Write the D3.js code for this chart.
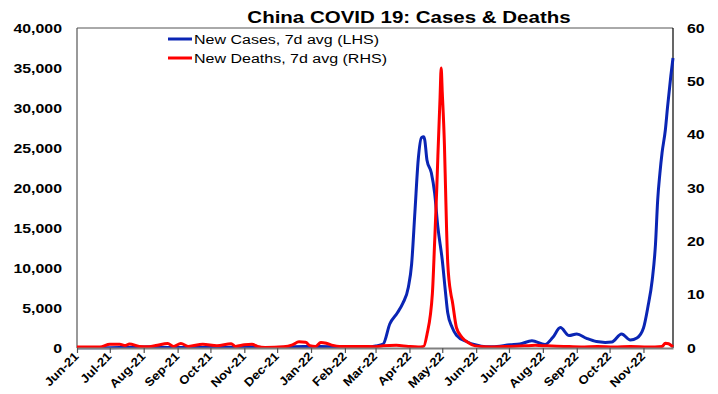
<!DOCTYPE html>
<html>
<head>
<meta charset="utf-8">
<script src="https://cdn.jsdelivr.net/npm/d3@7"></script>
<style>
html,body{margin:0;padding:0;background:#fff;}
svg{display:block;font-family:"Liberation Sans",Arial,sans-serif;}
</style>
</head>
<body>
<svg id="chart" width="718" height="394"></svg>
<script>
// ---- data ----
const caseDates = ["2021-06-01","2021-06-20","2021-07-01","2021-07-15","2021-07-28","2021-08-10","2021-08-25","2021-09-15","2021-10-01","2021-10-20","2021-11-05","2021-11-20","2021-12-10","2021-12-25","2022-01-10","2022-01-25","2022-02-10","2022-02-25","2022-03-01","2022-03-08","2022-03-14","2022-03-21","2022-03-26","2022-03-31","2022-04-03","2022-04-06","2022-04-09","2022-04-12","2022-04-14","2022-04-15","2022-04-17","2022-04-21","2022-04-24","2022-04-27","2022-05-01","2022-05-04","2022-05-06","2022-05-10","2022-05-14","2022-05-24","2022-05-31","2022-06-10","2022-06-16","2022-07-02","2022-07-11","2022-07-22","2022-08-03","2022-08-10","2022-08-17","2022-08-25","2022-09-01","2022-09-10","2022-09-19","2022-09-27","2022-10-03","2022-10-12","2022-10-20","2022-10-26","2022-11-01","2022-11-05","2022-11-09","2022-11-12","2022-11-14","2022-11-16","2022-11-18","2022-11-21","2022-11-23","2022-11-26","2022-11-28"];
const caseValues = [30,30,40,60,100,150,60,80,50,80,150,60,100,200,200,120,100,150,250,500,3000,4400,5600,7600,10500,17000,23500,26300,26400,26000,23500,21900,19400,15100,11000,6900,4400,2600,1600,750,400,150,150,400,500,900,450,1300,2550,1550,1750,1200,800,700,750,1750,1000,1250,2500,5100,8500,13000,18500,21800,24400,27250,30100,34000,36250];

const deathDates = ["2021-06-01","2021-06-22","2021-07-01","2021-07-10","2021-07-15","2021-07-19","2021-07-28","2021-08-06","2021-08-12","2021-08-23","2021-08-28","2021-09-04","2021-09-11","2021-09-24","2021-10-07","2021-10-20","2021-10-24","2021-11-01","2021-11-08","2021-11-13","2021-11-20","2021-12-07","2021-12-15","2021-12-21","2021-12-27","2021-12-31","2022-01-05","2022-01-10","2022-01-15","2022-01-21","2022-01-27","2022-02-15","2022-03-01","2022-03-08","2022-03-20","2022-03-31","2022-04-09","2022-04-14","2022-04-17","2022-04-22","2022-04-24","2022-04-26","2022-04-27","2022-04-29","2022-04-30","2022-05-01","2022-05-03","2022-05-04","2022-05-05","2022-05-06","2022-05-09","2022-05-10","2022-05-14","2022-05-19","2022-05-25","2022-05-31","2022-06-15","2022-07-01","2022-07-15","2022-07-25","2022-08-05","2022-08-20","2022-09-05","2022-09-20","2022-10-05","2022-10-20","2022-11-05","2022-11-18","2022-11-21","2022-11-24","2022-11-28"];
const deathValues = [0.2,0.2,0.7,0.7,0.45,0.75,0.3,0.25,0.45,0.85,0.3,0.85,0.3,0.7,0.4,0.8,0.3,0.6,0.7,0.3,0.1,0.25,0.6,1.15,1.1,0.45,0.3,1.05,0.9,0.5,0.3,0.3,0.25,0.4,0.5,0.3,0.2,0.3,2.5,10.3,19.7,30,36,47,52.5,48,38,30,22,16,10,9,3.8,2.0,1.0,0.4,0.2,0.3,0.4,0.5,0.4,0.3,0.2,0.3,0.2,0.3,0.2,0.3,0.9,0.8,0.2];

const monthTicks = ["2021-06-01","2021-07-01","2021-08-01","2021-09-01","2021-10-01","2021-11-01","2021-12-01","2022-01-01","2022-02-01","2022-03-01","2022-04-01","2022-05-01","2022-06-01","2022-07-01","2022-08-01","2022-09-01","2022-10-01","2022-11-01"];
const monthLabels = ["Jun-21","Jul-21","Aug-21","Sep-21","Oct-21","Nov-21","Dec-21","Jan-22","Feb-22","Mar-22","Apr-22","May-22","Jun-22","Jul-22","Aug-22","Sep-22","Oct-22","Nov-22"];
const leftTicks = [0,5000,10000,15000,20000,25000,30000,35000,40000];
const rightTicks = [0,10,20,30,40,50,60];
const seriesNames = ["New Cases, 7d avg (LHS)","New Deaths, 7d avg (RHS)"];
const titleText = "China COVID 19: Cases & Deaths";

// ---- drawing ----
const parse = d3.timeParse("%Y-%m-%d");
const svg = d3.select("#chart");
const L = 77, R = 673, T = 28, B = 348;
const BLUE = "#0a25b4", RED = "#ff0000";
const FONT = "Liberation Sans, Arial, sans-serif";

function stretch(sel, k) {
  sel.each(function () {
    const len = this.getComputedTextLength();
    d3.select(this).attr("textLength", len * k).attr("lengthAdjust", "spacingAndGlyphs");
  });
}

const x = d3.scaleTime().domain([parse("2021-06-01"), parse("2022-11-28")]).range([L, R]);
const yL = d3.scaleLinear().domain([0, 40000]).range([B, T]);
const yR = d3.scaleLinear().domain([0, 60]).range([B, T]);

const cases = caseDates.map((d, i) => ({date: parse(d), v: caseValues[i]}));
const deaths = deathDates.map((d, i) => ({date: parse(d), v: deathValues[i]}));

// frame
svg.append("line").attr("x1", L).attr("x2", R).attr("y1", T).attr("y2", T).attr("stroke", "#555").attr("stroke-width", 1);
svg.append("line").attr("x1", L).attr("x2", L).attr("y1", T).attr("y2", B).attr("stroke", "#555").attr("stroke-width", 1.2);
svg.append("line").attr("x1", R).attr("x2", R).attr("y1", T).attr("y2", B).attr("stroke", "#000").attr("stroke-width", 1.2);

// left axis labels
const gL = svg.append("g").attr("transform", `translate(${L},0)`)
  .call(d3.axisLeft(yL).tickValues(leftTicks).tickFormat(d3.format(",")).tickSize(0).tickPadding(15));
gL.select(".domain").remove();
gL.selectAll("text").attr("font-size", 12.5).attr("font-weight", "bold").attr("fill", "#000").attr("font-family", FONT);
stretch(gL.selectAll("text"), 1.27);

// right axis labels
const gR = svg.append("g").attr("transform", `translate(${R},0)`)
  .call(d3.axisRight(yR).tickValues(rightTicks).tickSize(0).tickPadding(14));
gR.select(".domain").remove();
gR.selectAll("text").attr("font-size", 12.5).attr("font-weight", "bold").attr("fill", "#000").attr("font-family", FONT);
stretch(gR.selectAll("text"), 1.27);

// lines
const lineL = d3.line().x(d => x(d.date)).y(d => yL(d.v)).curve(d3.curveMonotoneX);
const lineR = d3.line().x(d => x(d.date)).y(d => yR(d.v)).curve(d3.curveMonotoneX);
svg.append("path").datum(cases).attr("d", lineL).attr("fill", "none").attr("stroke", BLUE).attr("stroke-width", 3).attr("stroke-linejoin", "round");
svg.append("path").datum(deaths).attr("d", lineR).attr("fill", "none").attr("stroke", RED).attr("stroke-width", 3).attr("stroke-linejoin", "round");

// bottom axis
const gX = svg.append("g").attr("transform", `translate(0,${B})`)
  .call(d3.axisBottom(x).tickValues(monthTicks.map(parse)).tickFormat((d, i) => monthLabels[i]).tickSize(5).tickSizeOuter(0));
gX.select(".domain").attr("stroke", "#808080").attr("stroke-width", 2);
gX.selectAll(".tick line").attr("stroke", "#555").attr("stroke-width", 1.2);
gX.selectAll("text").attr("font-size", 12).attr("font-weight", "bold").attr("fill", "#000").attr("font-family", FONT)
  .attr("text-anchor", "end").attr("dy", null).attr("y", 0)
  .attr("transform", "translate(2,9) rotate(-45)");
stretch(gX.selectAll("text"), 1.1);

// title
const title = svg.append("text").attr("x", 409).attr("y", 23).attr("text-anchor", "middle")
  .attr("font-size", 16).attr("font-weight", "bold").attr("font-family", FONT).text(titleText);
stretch(title, 1.28);

// legend
const lg = svg.append("g");
[BLUE, RED].forEach((c, i) => {
  const yy = 39 + i * 19;
  lg.append("line").attr("x1", 168).attr("x2", 192).attr("y1", yy).attr("y2", yy).attr("stroke", c).attr("stroke-width", 3);
  const t = lg.append("text").attr("x", 194).attr("y", yy + 4.5).attr("font-size", 12.5).attr("font-family", FONT)
    .attr("fill", "#000").text(seriesNames[i]);
  stretch(t, 1.28);
});
</script>
</body>
</html>
